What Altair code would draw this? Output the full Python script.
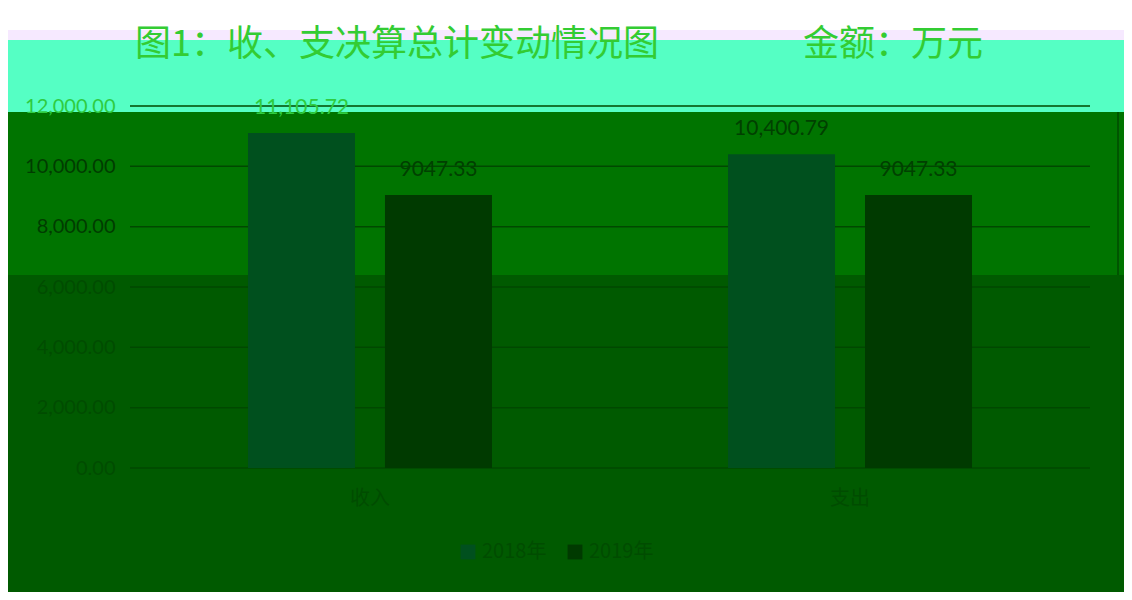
import altair as alt
import pandas as pd

categories = ["收入", "支出"]
series = ["2018年", "2019年"]
values_2018 = [11105.72, 10400.79]
values_2019 = [9047.33, 9047.33]
labels_2018 = ["11,105.72", "10,400.79"]
labels_2019 = ["9047.33", "9047.33"]
y_ticks = [0, 2000, 4000, 6000, 8000, 10000, 12000]
title_text = "图1：收、支决算总计变动情况图　　　　金额：万元"

rows = []
for i, c in enumerate(categories):
    rows.append({"cat": c, "series": series[0], "value": values_2018[i], "label": labels_2018[i]})
    rows.append({"cat": c, "series": series[1], "value": values_2019[i], "label": labels_2019[i]})
df = pd.DataFrame(rows)
grid_df = pd.DataFrame({"value": y_ticks})
one = pd.DataFrame({"k": [0]})
title_df = pd.DataFrame({"t": [title_text]})

W, H = 960, 362
BAR_COLORS = ["#00501e", "#003a00"]

x_scale = alt.Scale(domain=categories, paddingInner=0.4917, paddingOuter=0.2458)
xo_scale = alt.Scale(domain=series, paddingInner=0.219, paddingOuter=0)
y_scale = alt.Scale(domain=[0, 12000], nice=False)

y_axis = alt.Axis(
    values=y_ticks,
    format=",.2f",
    grid=False,
    domain=False,
    ticks=False,
    labelFontSize=20,
    labelFont="Lato",
    labelColor={
        "expr": "datum.value >= 11000 ? '#2ecc40' : (datum.value >= 7000 ? '#003c00' : '#004c00')"
    },
    labelPadding=15,
    title=None,
    zindex=1,
)


def band(color, x1, x2, y1, y2, stroke=None):
    kw = {"color": color}
    if stroke:
        kw = {"fill": color, "stroke": stroke, "strokeWidth": 2}
    return alt.Chart(one).mark_rect(**kw).encode(
        x=alt.value(x1), x2=alt.value(x2), y=alt.value(y1), y2=alt.value(y2)
    )


bg_dark = band("#005a00", -130, 1010, -110, 500)
border = band("#ffffff", -127, 998, -102, 494, stroke="#d9d9d9")
pink = band("#f6e9ff", -130, 1010, -76, -66)
aqua = band("#55ffc4", -130, 1010, -66, 6)
green = band("#007400", -130, 1010, 6, 169)
dark = band("#005a00", -130, 1010, 169, 500)
vline = alt.Chart(one).mark_rule(color="#005400", strokeWidth=2).encode(
    x=alt.value(988), y=alt.value(6), y2=alt.value(169)
)

grid = alt.Chart(grid_df).mark_rule(color="#004800", strokeWidth=1.5).encode(
    y=alt.Y("value:Q", scale=y_scale, axis=y_axis)
)

base = alt.Chart(df).encode(
    x=alt.X(
        "cat:N",
        scale=x_scale,
        sort=categories,
        axis=alt.Axis(
            title=None,
            labelFontSize=20,
            labelFont="Noto Sans CJK SC",
            labelColor="#004c00",
            labelPadding=20,
            domain=False,
            ticks=False,
            labelAngle=0,
            zindex=1,
        ),
    ),
    xOffset=alt.XOffset("series:N", scale=xo_scale, sort=series),
    y=alt.Y("value:Q", scale=y_scale, axis=y_axis),
)

bars = base.mark_bar().encode(
    color=alt.Color(
        "series:N",
        scale=alt.Scale(domain=series, range=BAR_COLORS),
        legend=alt.Legend(
            title=None,
            orient="none",
            direction="horizontal",
            legendX=328,
            legendY=436,
            symbolType="square",
            symbolSize=220,
            symbolStrokeWidth=0,
            labelFontSize=20,
            labelFont="Noto Sans CJK SC",
            labelColor="#004c00",
            columnPadding=18,
            zindex=1,
        ),
    )
)

texts = base.mark_text(baseline="bottom", dy=-15, fontSize=21, font="Lato").encode(
    text="label:N",
    color=alt.condition("datum.value > 11000", alt.value("#2ecc40"), alt.value("#004000")),
)

title = alt.Chart(title_df).mark_text(
    fontSize=36, font="Noto Sans CJK SC", color="#33cc33", baseline="middle", align="center"
).encode(text="t:N", x=alt.value(429), y=alt.value(-61))

chart = (
    alt.layer(bg_dark, border, pink, aqua, green, dark, vline, grid, bars, texts, title)
    .properties(
        width=W,
        height=H,
        autosize=alt.AutoSizeParams(type="none"),
        padding={"left": 122, "top": 98, "right": 34, "bottom": 124},
        background="#ffffff",
    )
    .configure_view(stroke=None)
)

chart.save("out.html", embed_options={"renderer": "svg", "actions": False})
